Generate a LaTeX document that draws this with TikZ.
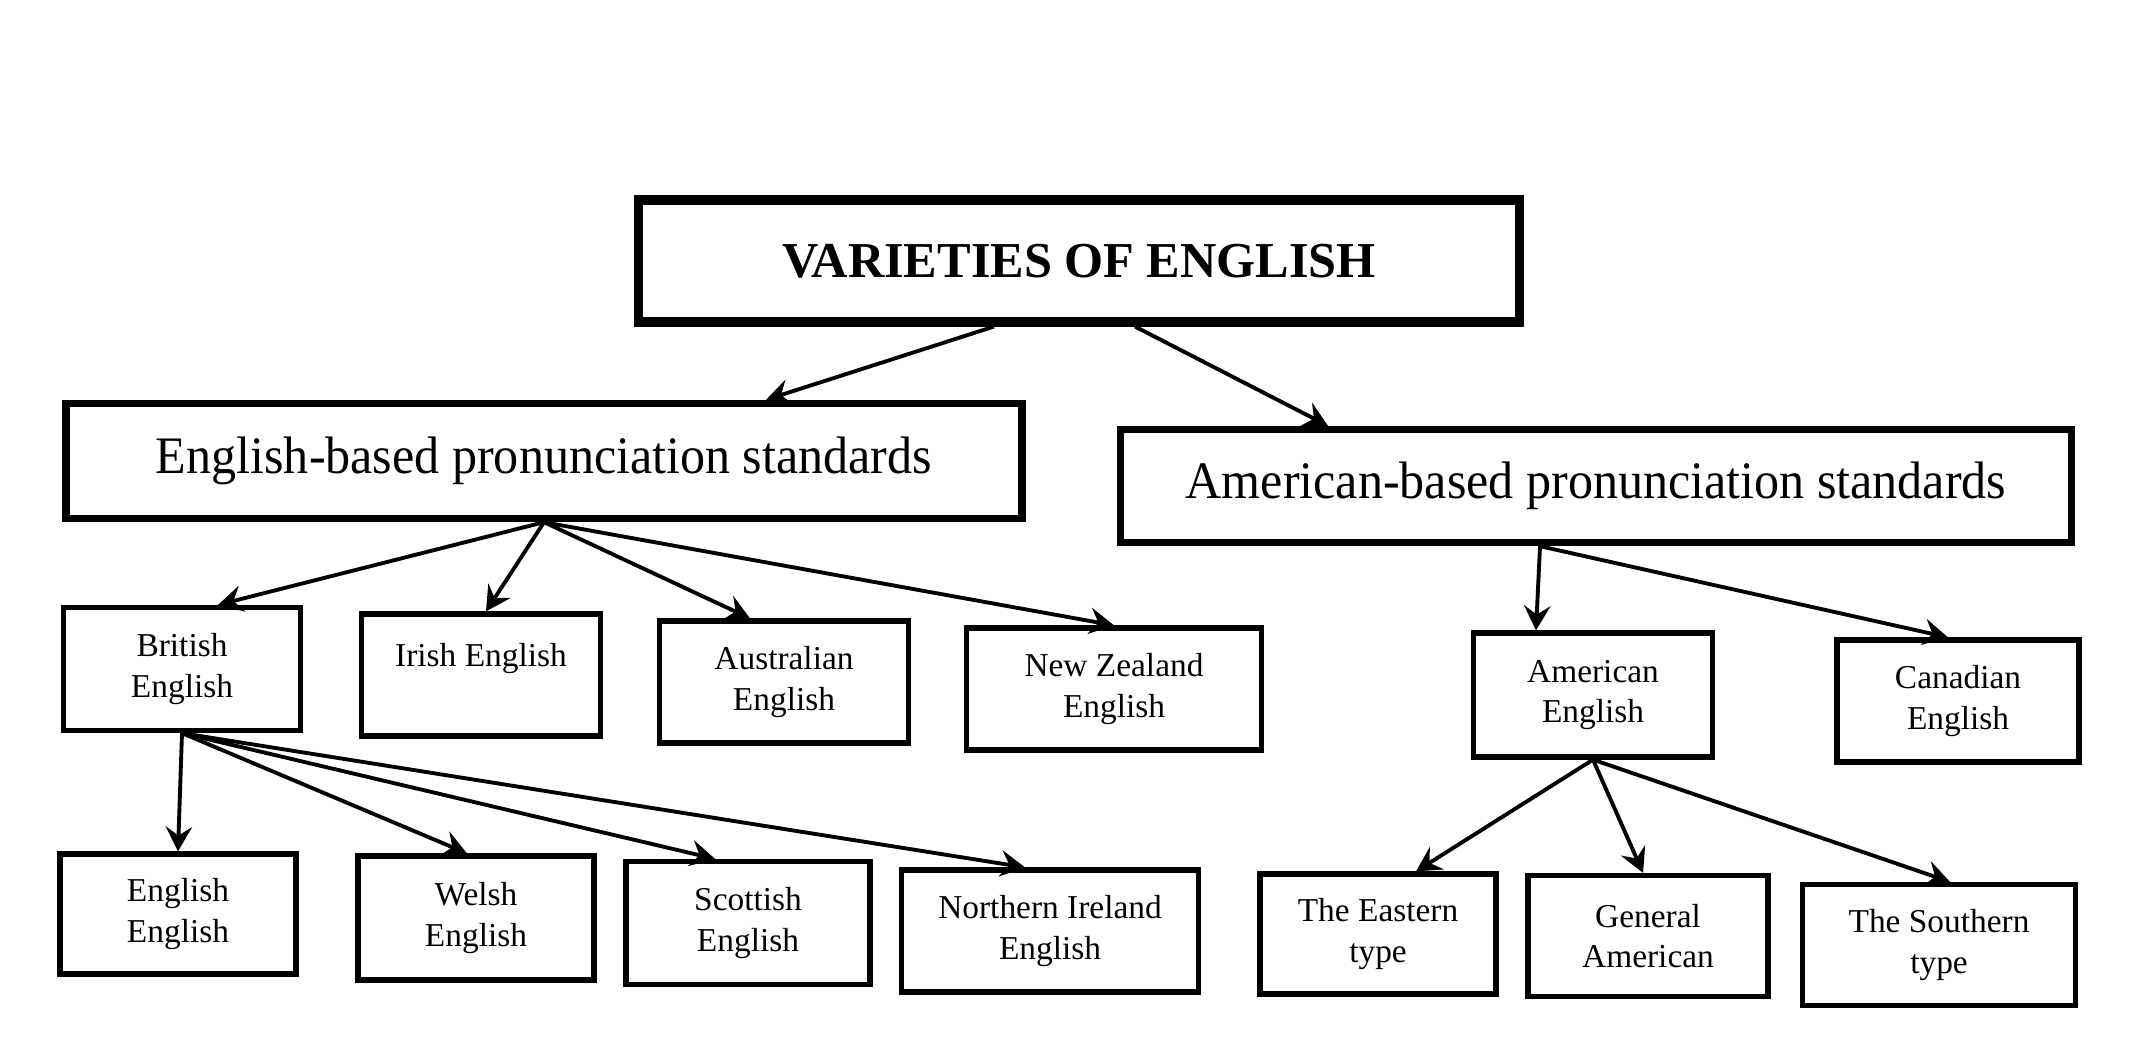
\documentclass[tikz,border=0pt]{standalone}
\usepackage{fontspec}
\setmainfont{Liberation Serif}
\newfontfamily\narrowserif[FakeStretch=0.95]{Liberation Serif}
\usetikzlibrary{arrows.meta}

\begin{document}
\begin{tikzpicture}[
  >={Stealth[length=7pt,width=7.5pt,inset=2.5pt]},
  titlebox/.style={draw,line width=2.6pt,inner sep=0pt,font=\fontsize{14.3}{17}\selectfont\bfseries},
  groupbox/.style={draw,line width=2.1pt,inner sep=0pt,font=\narrowserif\fontsize{15}{18}\selectfont},
  varbox/.style={draw,line width=1.5pt,inner sep=0pt,align=center,font=\fontsize{9.5}{11.4}\selectfont},
  link/.style={->,line width=1.1pt}]

\useasboundingbox (0,0) rectangle (21.54,-10.57);

% Top of the tree
\node[titlebox,minimum width=8.81cm,minimum height=1.22cm] (varieties) at (10.79,-2.61) {VARIETIES OF ENGLISH};

% The two standards
\node[groupbox,minimum width=9.56cm,minimum height=1.15cm] (engstd) at (5.44,-4.61) {English-based pronunciation standards};
\node[groupbox,minimum width=9.51cm,minimum height=1.13cm] (amstd) at (15.96,-4.86) {American-based pronunciation standards};

% English-based varieties
\node[varbox,minimum width=2.37cm,minimum height=1.23cm] (british) at (1.82,-6.69) {British\\English};
\node[varbox,minimum width=2.39cm,minimum height=1.22cm] (irish) at (4.81,-6.75) {Irish English\\~};
\node[varbox,minimum width=2.49cm,minimum height=1.22cm] (australian) at (7.84,-6.82) {Australian\\English};
\node[varbox,minimum width=2.95cm,minimum height=1.22cm] (newzealand) at (11.14,-6.89) {New Zealand\\English};

% American-based varieties
\node[varbox,minimum width=2.39cm,minimum height=1.24cm] (american) at (15.93,-6.95) {American\\English};
\node[varbox,minimum width=2.42cm,minimum height=1.22cm] (canadian) at (19.58,-7.01) {Canadian\\English};

% Varieties of British English
\node[varbox,minimum width=2.36cm,minimum height=1.2cm] (englisheng) at (1.78,-9.14) {English\\English};
\node[varbox,minimum width=2.36cm,minimum height=1.24cm] (welsh) at (4.76,-9.18) {Welsh\\English};
\node[varbox,minimum width=2.44cm,minimum height=1.23cm] (scottish) at (7.48,-9.23) {Scottish\\English};
\node[varbox,minimum width=2.97cm,minimum height=1.22cm] (nireland) at (10.50,-9.31) {Northern Ireland\\English};

% Varieties of American English
\node[varbox,minimum width=2.36cm,minimum height=1.2cm] (eastern) at (13.78,-9.34) {The Eastern\\type};
\node[varbox,minimum width=2.40cm,minimum height=1.21cm] (general) at (16.48,-9.36) {General\\American};
\node[varbox,minimum width=2.73cm,minimum height=1.21cm] (southern) at (19.39,-9.45) {The Southern\\type};

% Arrows
\draw[link] ([xshift=-0.85cm]varieties.south) -- ([xshift=2.22cm]engstd.north);
\draw[link] ([xshift=0.56cm]varieties.south) -- ([xshift=-2.68cm]amstd.north);

\draw[link] (engstd.south) -- ([xshift=0.36cm]british.north);
\draw[link] (engstd.south) -- ([xshift=0.05cm]irish.north);
\draw[link] (engstd.south) -- ([xshift=-0.34cm]australian.north);
\draw[link] (engstd.south) -- (newzealand.north);

\draw[link] ([xshift=-0.56cm]amstd.south) -- ([xshift=-0.57cm]american.north);
\draw[link] ([xshift=-0.56cm]amstd.south) -- ([xshift=-0.1cm]canadian.north);

\draw[link] (british.south) -- (englisheng.north);
\draw[link] (british.south) -- ([xshift=-0.09cm]welsh.north);
\draw[link] (british.south) -- ([xshift=-0.33cm]scottish.north);
\draw[link] (british.south) -- ([xshift=-0.25cm]nireland.north);

\draw[link] (american.south) -- ([xshift=0.38cm]eastern.north);
\draw[link] (american.south) -- ([xshift=-0.05cm]general.north);
\draw[link] (american.south) -- ([xshift=0.11cm]southern.north);

\end{tikzpicture}
\end{document}
